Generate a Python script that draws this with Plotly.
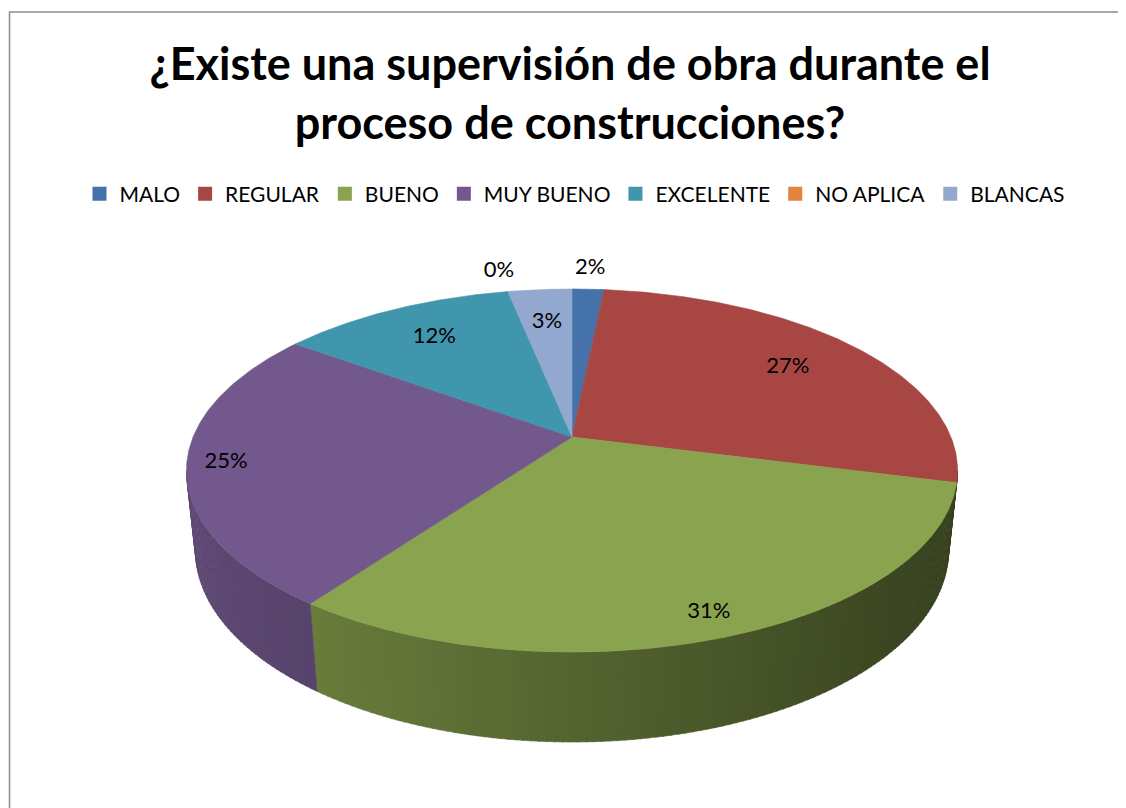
import numpy as np
import plotly.graph_objects as go

# ---------------- data ----------------
categories = ["MALO", "REGULAR", "BUENO", "MUY BUENO", "EXCELENTE", "NO APLICA", "BLANCAS"]
values = [1.6, 27.4, 31.0, 25.0, 11.8, 0.0, 3.2]
colors = ["#4572A8", "#A84644", "#89A34E", "#72588C", "#4096AC", "#E2843C", "#93A8CF"]
title_text = "¿Existe una supervisión de obra durante el<br>proceso de construcciones?"

# ---------------- 3D pie geometry (page pixel space) ----------------
W, H_PX = 1126, 808
OFF = 8                    # page body margin
CX, CY = 572, 437          # projected pie centre
F = 1820.0                 # focal scale
DIST = 4.803               # camera distance (in radii)
ALPHA = np.arcsin(0.4627)  # elevation
THICK = 0.2394             # pie thickness (in radii)
label_r = [1.17, 0.75, 0.9, 0.9, 0.75, 1.17, 0.75]

ca, sa = np.cos(ALPHA), np.sin(ALPHA)


def project(theta_deg, r, y):
    th = np.radians(np.asarray(theta_deg, dtype=float))
    x = r * np.sin(th)
    z = -r * np.cos(th)
    depth = DIST - y * sa - z * ca
    u = x
    vup = y * ca - z * sa
    return CX + F * u / depth, CY - F * vup / depth


def hex_rgb(h):
    h = h.lstrip("#")
    return tuple(int(h[i:i + 2], 16) for i in (0, 2, 4))


total = sum(values)
angles = np.cumsum([0] + [v / total * 360 for v in values])

fig = go.Figure()

# rim extremes for shading
rim = np.linspace(0, 360, 721)
rx, _ = project(rim, 1.0, 0.0)
xmin_rim, xmax_rim = rx.min(), rx.max()

th_vis = np.degrees(np.arccos(-ca / DIST))
vis_lo, vis_hi = th_vis, 360 - th_vis

# ---- side walls (front visible part), with horizontal light gradient ----
for i, cat in enumerate(categories):
    a0, a1 = angles[i], angles[i + 1]
    lo, hi = max(a0, vis_lo), min(a1, vis_hi)
    if hi <= lo:
        continue
    n = max(1, int(np.ceil(hi - lo)))
    edges = np.linspace(lo, hi, n + 1)
    base = hex_rgb(colors[i])
    for j in range(n):
        t = np.linspace(edges[j], edges[j + 1] + (0.15 if j < n - 1 else 0), 4)
        tx, ty = project(t, 1.0, 0.0)
        bx, by = project(t[::-1], 1.0, -THICK)
        xs = np.concatenate([tx, bx, tx[:1]])
        ys = np.concatenate([ty, by, ty[:1]])
        mx = tx.mean()
        fac = 0.83 - 0.43 * (mx - xmin_rim) / (xmax_rim - xmin_rim)
        col = "rgb(%d,%d,%d)" % tuple(int(round(c * fac)) for c in base)
        fig.add_trace(go.Scatter(x=xs, y=ys, mode="lines", fill="toself",
                                 fillcolor=col, line=dict(color=col, width=0.6),
                                 hoverinfo="skip", showlegend=False))

# ---- top faces ----
for i, cat in enumerate(categories):
    a0, a1 = angles[i], angles[i + 1]
    if a1 - a0 <= 0:
        continue
    t = np.linspace(a0, a1, max(3, int(np.ceil((a1 - a0) * 2)) + 1))
    ax, ay = project(t, 1.0, 0.0)
    xs = np.concatenate([[CX], ax, [CX]])
    ys = np.concatenate([[CY], ay, [CY]])
    fig.add_trace(go.Scatter(x=xs, y=ys, mode="lines", fill="toself",
                             fillcolor=colors[i], line=dict(color=colors[i], width=0.6),
                             hoverinfo="skip", showlegend=False, name=cat))

# ---- data labels ----
mids = (angles[:-1] + angles[1:]) / 2
lx, ly = [], []
for m, r in zip(mids, label_r):
    px, py = project(m, r, 0.0)
    lx.append(px)
    ly.append(py)
pct_text = ["%d%%" % int(round(v / total * 100)) for v in values]
fig.add_trace(go.Scatter(x=lx, y=ly, mode="text", text=pct_text,
                         textfont=dict(family="Lato", size=22, color="#000000"),
                         hoverinfo="skip", showlegend=False))

# ---- legend entries ----
for cat, col in zip(categories, colors):
    fig.add_trace(go.Scatter(x=[None], y=[None], mode="markers", name=cat,
                             marker=dict(symbol="square", size=14, color=col),
                             showlegend=True))

fig.update_layout(
    width=W, height=H_PX,
    margin=dict(l=0, r=0, t=0, b=0),
    paper_bgcolor="white", plot_bgcolor="white",
    xaxis=dict(range=[OFF, W + OFF], visible=False, fixedrange=True),
    yaxis=dict(range=[H_PX + OFF, OFF], visible=False, fixedrange=True),
    title=dict(text=title_text, x=(570 - OFF) / W, xanchor="center", y=1 - 72 / H_PX, yanchor="middle",
               font=dict(family="Lato", size=45, color="#000000", weight="bold")),
    legend=dict(orientation="h", x=(575 - OFF) / W, xanchor="center", y=1 - (194 - OFF) / H_PX,
                yanchor="middle",
                font=dict(family="Lato", size=21, color="#000000"),
                bgcolor="rgba(0,0,0,0)"),
    shapes=[dict(type="rect", xref="x", yref="y", x0=OFF + 1.5, y0=12, x1=W + 40, y1=H_PX + 40,
                 line=dict(color="#8C8C8C", width=1.5), fillcolor="rgba(0,0,0,0)", layer="below")],
    showlegend=True,
)

fig.write_html("out.html")
